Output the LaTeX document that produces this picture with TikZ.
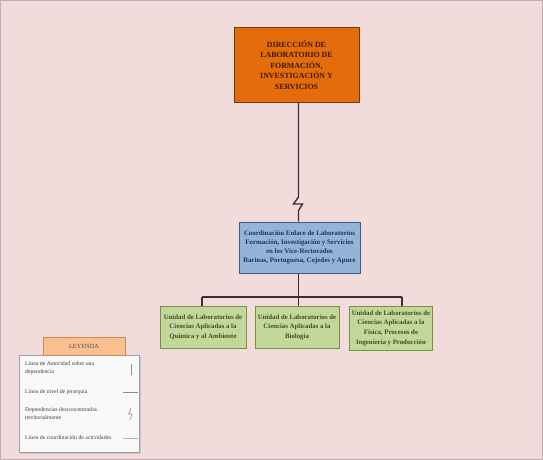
\documentclass[tikz,border=0pt]{standalone}
\usepackage{fontspec}
\setmainfont{Liberation Serif}
\usetikzlibrary{shadows}
\definecolor{bgpink}{HTML}{F2DCDB}
\definecolor{pageedge}{HTML}{BDB0B0}
\definecolor{orfill}{HTML}{E46C0A}
\definecolor{ordraw}{HTML}{6B3A10}
\definecolor{ortext}{HTML}{3A1A00}
\definecolor{blfill}{HTML}{95B3D7}
\definecolor{bldraw}{HTML}{3A5F8C}
\definecolor{bltext}{HTML}{17375E}
\definecolor{grfill}{HTML}{C3D69B}
\definecolor{grdraw}{HTML}{77933C}
\definecolor{grtext}{HTML}{3F4F1E}
\definecolor{lgfill}{HTML}{FAC090}
\definecolor{lgdraw}{HTML}{C88A50}
\definecolor{lgbox}{HTML}{F9F9FB}
\definecolor{lgedge}{HTML}{A0A0A8}
\definecolor{conn}{HTML}{3A3030}
\tikzset{
  topbox/.style={draw=ordraw, line width=1pt, fill=orfill, text=ortext, align=center,
    font=\fontsize{7.9}{10.5}\selectfont\bfseries, inner sep=0pt},
  bluebox/.style={draw=bldraw, line width=1pt, fill=blfill, text=bltext, align=center,
    font=\fontsize{6.9}{9}\selectfont\bfseries, inner sep=0pt},
  greenbox/.style={draw=grdraw, line width=0.8pt, fill=grfill, text=grtext, align=center,
    font=\fontsize{6.8}{9.6}\selectfont\bfseries, inner sep=0pt},
  conline/.style={draw=conn, line width=1.4pt},
  legtext/.style={anchor=west, align=left, text=black!75, font=\fontsize{5.8}{8}\selectfont, inner sep=0pt},
  legsym/.style={draw=black!45, line width=0.6pt},
}
\begin{document}
\begin{tikzpicture}[x=1pt,y=-1pt]
\useasboundingbox (0,0) rectangle (543,460);
\fill[bgpink] (0,0) rectangle (543,460);
\draw[pageedge, line width=1pt] (0.8,0.8) rectangle (542.2,459.2);

% main boxes
\node[topbox, minimum width=125pt, minimum height=75pt] (top) at (296.5,65)
  {DIRECCIÓN DE\\LABORATORIO DE\\FORMACIÓN,\\INVESTIGACIÓN Y\\SERVICIOS};
\node[bluebox, minimum width=121pt, minimum height=51pt] (blue) at (299.5,247.5)
  {Coordinación Enlace de Laboratorios\\Formación, Investigación y Servicios\\en los Vice-Rectorados\\Barinas, Portuguesa, Cojedes y Apure};
\node[greenbox, minimum width=86pt, minimum height=42pt] (g1) at (203,327)
  {Unidad de Laboratorios de\\Ciencias Aplicadas a la\\Química y al Ambiente};
\node[greenbox, minimum width=84pt, minimum height=42pt] (g2) at (297,327)
  {Unidad de Laboratorios de\\Ciencias Aplicadas a la\\Biología};
\node[greenbox, minimum width=83pt, minimum height=44pt] (g3) at (391,328)
  {Unidad de Laboratorios de\\Ciencias Aplicadas a la\\Física, Procesos de\\Ingeniería y Producción};

% zigzag connector
\coordinate (z1) at (298.5,197);
\coordinate (z2) at (293.5,204);
\coordinate (z3) at (302.5,204);
\coordinate (z4) at (298.5,210.5);
\draw[conline, line join=miter] (top.south -| z1) -- (z1) -- (z2) -- (z3) -- (z4) -- (blue.north -| z4);

% org bus
\coordinate (busL) at (202,297);
\coordinate (busM) at (298.5,297);
\coordinate (busR) at (402,297);
\draw[conline] (blue.south -| busM) -- (busM);
\draw[conline] (busL) -- (busR);
\draw[conline] (busL) -- (busL |- g1.north);
\draw[conline] (busM) -- (busM |- g2.north);
\draw[conline] (busR) -- (busR |- g3.north);

% legend
\node[draw=lgedge, line width=0.8pt, fill=lgbox, minimum width=120pt, minimum height=97pt,
  drop shadow={shadow xshift=1.5pt, shadow yshift=-1.5pt, fill=black!30, opacity=0.6},
  inner sep=0pt] (legbox) at (79,404) {};
\node[draw=lgdraw, line width=0.7pt, fill=lgfill, minimum width=82pt, minimum height=18pt,
  inner sep=0pt, text=black!70, font=\fontsize{6.3}{7}\selectfont] (leghead) at (84,346.5) {LEYENDA};

\node[legtext] (l1) at (25,368) {Línea de Autoridad sobre una\\dependencia};
\node[legtext] (l2) at (25,392) {Línea de nivel de jerarquía};
\node[legtext] (l3) at (25,414) {Dependencias desconcentradas\\territorialmente};
\node[legtext] (l4) at (25,438) {Línea de coordinación de actividades};

\draw[legsym] (131,364) -- (131,375);
\draw[legsym] (123,392) -- (138,392);
\draw[legsym] (131,408) -- (128.5,414) -- (132,414) -- (130,420);
\draw[legsym, draw=black!30] (123,438) -- (138,438);
\end{tikzpicture}
\end{document}
